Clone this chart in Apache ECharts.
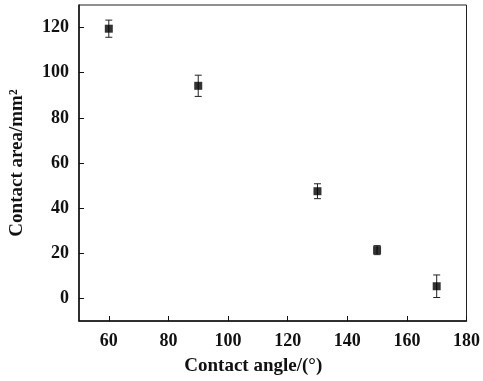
<!DOCTYPE html>
<html>
<head>
<meta charset="utf-8">
<script src="https://cdn.jsdelivr.net/npm/echarts@6/dist/echarts.min.js"></script>
<style>
  html, body { margin: 0; padding: 0; background: #fff; }
  #chart { width: 483px; height: 381px; }
</style>
</head>
<body>
<div id="chart"></div>
<script>
// contact angle (deg) vs contact area (mm^2)
const angles = [60, 90, 130, 150, 170]
const areas = [119.5, 94.2, 47.5, 21.4, 5.4]
const errors = [3.8, 4.7, 3.3, 2.0, 5.0] // +/- error bar half length
const yTicks = [0, 20, 40, 60, 80, 100, 120]
const xTicks = [60, 80, 100, 120, 140, 160, 180]

const fontFamily = '"Liberation Serif", "Times New Roman", serif'

const chart = echarts.init(document.getElementById('chart'))

const pointData = angles.map((a, i) => [a, areas[i]])
const errData = angles.map((a, i) => [a, areas[i] - errors[i], areas[i] + errors[i]])

const option = {
  animation: false,
  grid: {
    left: 76,
    right: 16,
    top: 5,
    bottom: 60,
    show: true,
    borderColor: '#222',
    borderWidth: 1
  },
  xAxis: {
    type: 'value',
    min: 50,
    max: 180,
    name: 'Contact angle/(°)',
    nameLocation: 'middle',
    nameGap: 36,
    nameTextStyle: {
      fontFamily: fontFamily,
      fontWeight: 'bold',
      fontSize: 19,
      color: '#111',
      padding: [0, 39, 0, 0]
    },
    axisLine: { onZero: false, lineStyle: { color: '#111', width: 1.5 } },
    axisTick: { inside: true, length: 5, customValues: xTicks, lineStyle: { color: '#111' } },
    axisLabel: {
      customValues: xTicks,
      fontFamily: fontFamily,
      fontWeight: 'bold',
      fontSize: 18,
      color: '#111',
      margin: 11
    },
    splitLine: { show: false }
  },
  yAxis: {
    type: 'value',
    min: -10,
    max: 130,
    name: 'Contact area/mm²',
    nameLocation: 'middle',
    nameGap: 52,
    nameTextStyle: {
      fontFamily: fontFamily,
      fontWeight: 'bold',
      fontSize: 19,
      color: '#111'
    },
    axisLine: { onZero: false, lineStyle: { color: '#111', width: 1.5 } },
    axisTick: { inside: true, length: 5, customValues: yTicks, lineStyle: { color: '#111' } },
    axisLabel: {
      customValues: yTicks,
      fontFamily: fontFamily,
      fontWeight: 'bold',
      fontSize: 18,
      color: '#111',
      margin: 10
    },
    splitLine: { show: false }
  },
  series: [
    {
      type: 'custom',
      data: errData,
      renderItem: (params, api) => {
        const x = api.value(0)
        const low = api.coord([x, api.value(1)])
        const high = api.coord([x, api.value(2)])
        const half = 3.5
        const style = { stroke: '#222', lineWidth: 1 }
        return {
          type: 'group',
          children: [
            { type: 'line', shape: { x1: low[0], y1: low[1], x2: high[0], y2: high[1] }, style: style },
            { type: 'line', shape: { x1: low[0] - half, y1: low[1], x2: low[0] + half, y2: low[1] }, style: style },
            { type: 'line', shape: { x1: high[0] - half, y1: high[1], x2: high[0] + half, y2: high[1] }, style: style }
          ]
        }
      },
      z: 2
    },
    {
      type: 'scatter',
      data: pointData,
      symbol: 'rect',
      symbolSize: 8,
      itemStyle: { color: '#000' },
      z: 3
    }
  ]
}

chart.setOption(option)
</script>
</body>
</html>
